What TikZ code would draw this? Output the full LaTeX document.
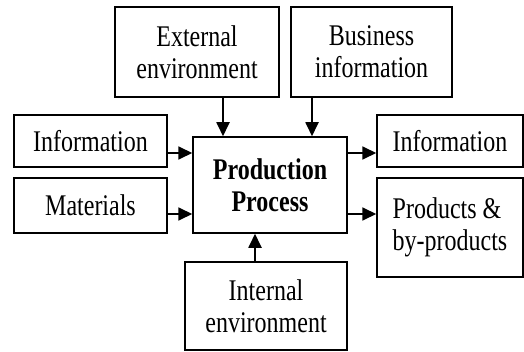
\documentclass[tikz,border=0pt]{standalone}
\usepackage{fontspec}
\setmainfont{Liberation Serif}[FakeStretch=0.8]
\usetikzlibrary{arrows.meta}
\tikzset{
    blockbox/.style={draw, line width=1.5pt, align=center, inner sep=0pt,
        font=\fontsize{30}{32}\selectfont},
    arr/.style={line width=1.8pt, -{Triangle[length=14pt,width=13pt]}}
}
\begin{document}
\begin{tikzpicture}[x=1pt,y=1pt]
                \useasboundingbox (0,0) rectangle (524,351);

                \node[blockbox, minimum width=164pt, minimum height=90pt]
                    (extenv) at (197,299) {External\\environment};
                \node[blockbox, minimum width=161pt, minimum height=90pt]
                    (businfo) at (371.5,299) {Business\\information};
                \node[blockbox, minimum width=153pt, minimum height=52pt]
                    (infoin) at (90.5,210) {Information};
                \node[blockbox, minimum width=153pt, minimum height=55pt]
                    (materials) at (90.5,145.5) {Materials};
                \node[blockbox, minimum width=154pt, minimum height=96pt]
                    (prod) at (270,166) {\bfseries Production\\\bfseries Process};
                \node[blockbox, minimum width=146pt, minimum height=52pt]
                    (infoout) at (450,210) {Information};
                \node[blockbox, align=left, minimum width=146pt, minimum height=99pt]
                    (prodout) at (450,123.5) {Products \&\\by-products};
                \node[blockbox, minimum width=162pt, minimum height=88pt]
                    (intenv) at (266,45) {Internal\\environment};

                \draw[arr] ([xshift=26pt]extenv.south)
                    -- ([xshift=26pt]extenv.south |- prod.north);
                \draw[arr] ([xshift=-59.5pt]businfo.south)
                    -- ([xshift=-59.5pt]businfo.south |- prod.north);
                \draw[arr] ([xshift=-11pt]intenv.north)
                    -- ([xshift=-11pt]intenv.north |- prod.south);
                \draw[arr] (infoin.east |- 0,198) -- (prod.west |- 0,198);
                \draw[arr] (materials.east |- 0,137) -- (prod.west |- 0,137);
                \draw[arr] (prod.east |- 0,198) -- (infoout.west |- 0,198);
                \draw[arr] (prod.east |- 0,137) -- (prodout.west |- 0,137);
\end{tikzpicture}
\end{document}
